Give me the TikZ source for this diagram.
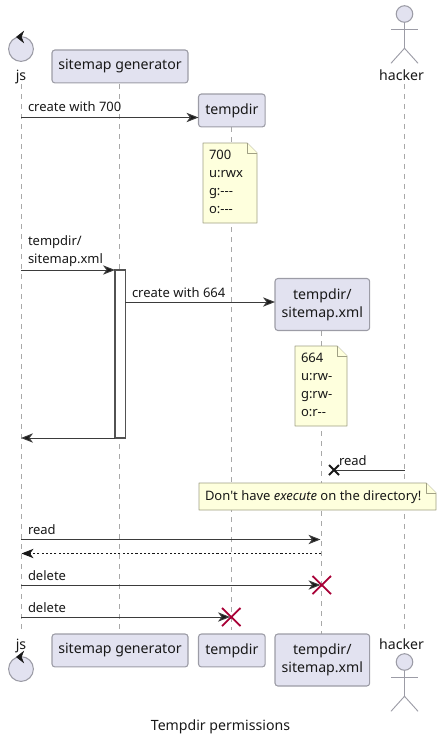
\documentclass[tikz,border=0pt]{standalone}
\usepackage{fontspec}
\newfontfamily\diagfont{Noto Sans}
\usetikzlibrary{arrows.meta}
\definecolor{boxfill}{HTML}{E2E2F0}
\definecolor{boxline}{HTML}{9C9CA6}
\definecolor{notefill}{HTML}{FEFFDD}
\definecolor{noteline}{HTML}{A0A084}
\definecolor{ink}{HTML}{181818}
\definecolor{lifegrey}{HTML}{A8A8A8}
\definecolor{killred}{HTML}{A80036}
\tikzset{
  every node/.style={font=\diagfont\fontsize{10.6}{13.5}\selectfont,text=ink,inner sep=0pt,outer sep=0pt},
  smalltext/.style={font=\diagfont\fontsize{9.75}{13.5}\selectfont},
  participantbox/.style={draw=boxline,fill=boxfill,line width=0.8pt,rounded corners=2.2pt,align=center,anchor=north west},
  lifeline/.style={draw=lifegrey,line width=0.9pt,dash pattern=on 3.75pt off 3.75pt},
  msg/.style={draw=ink!85,line width=0.75pt,-{Stealth[length=9pt,width=7pt,inset=2.6pt,fill=ink]}},
  retmsg/.style={draw=ink,line width=0.75pt,dash pattern=on 1.6pt off 1.6pt,-{Stealth[length=9pt,width=7pt,inset=2.6pt,fill=ink]}},
  msglabel/.style={anchor=base west,smalltext},
  activationbar/.style={draw=ink!75,fill=white,line width=0.8pt},
  notebody/.style={draw=noteline,fill=notefill,line width=0.6pt,line join=round},
  actorline/.style={draw=boxline,line width=0.7pt},
  actorhead/.style={draw=boxline,fill=boxfill,line width=0.8pt},
  killx/.style={draw=killred,line width=1.35pt},
  lostx/.style={draw=ink,line width=1.5pt}
}
\newcommand{\dognote}[6]{%
  \path[notebody] (#2,#3) -- (#2+#4-10,#3) -- (#2+#4,#3+10) -- (#2+#4,#3+#5) -- (#2,#3+#5) -- cycle;
  \path[notebody] (#2+#4-10,#3) -- (#2+#4-10,#3+10) -- (#2+#4,#3+10);
  \node[anchor=north west,align=left,smalltext] (#1) at (#2+6,#3+7.5) {#6};
}
\begin{document}
\begin{tikzpicture}[x=0.75pt,y=-0.75pt]
\useasboundingbox (0,0) rectangle (443,742);
% lifeline ends
\coordinate (jsT) at (21.4,84);     \coordinate (jsB) at (21.4,634);
\coordinate (genT) at (119.5,84);   \coordinate (genB) at (119.5,630);
\coordinate (tmpT) at (231.4,127);  \coordinate (tmpB) at (231.4,630);
\coordinate (xmlT) at (321.5,331);  \coordinate (xmlB) at (321.5,634);
\coordinate (hakT) at (404.5,84);   \coordinate (hakB) at (404.5,634);
\draw[lifeline] (jsT) -- (jsB);
\draw[lifeline] (genT) -- (genB);
\draw[lifeline] (tmpT) -- (tmpB);
\draw[lifeline] (xmlT) -- (xmlB);
\draw[lifeline] (hakT) -- (hakB);
% participants
\node[participantbox,minimum width=102pt,minimum height=24.7pt] (genTop) at (52,50) {sitemap generator};
\node[participantbox,minimum width=50pt,minimum height=24.7pt] (tmpTop) at (198.5,94) {tempdir};
\node[participantbox,minimum width=71pt,minimum height=39pt] (xmlTop) at (275,278.5) {tempdir/\\sitemap.xml};
\node[participantbox,minimum width=102pt,minimum height=24.7pt] (genBot) at (52,634) {sitemap generator};
\node[participantbox,minimum width=50pt,minimum height=24.7pt] (tmpBot) at (198.5,634) {tempdir};
\node[participantbox,minimum width=71pt,minimum height=39pt] (xmlBot) at (275,634) {tempdir/\\sitemap.xml};
% control js
\node[actorhead,circle,minimum size=18.6pt,fill=boxfill] (jsTopC) at (21,49) {};
\draw[ink,line width=0.4pt,fill=ink] (21,37) ++(-4.5,0) -- ++(7,-5.5) -- ++(-2.2,5.5) -- ++(2.2,5.5) -- cycle;
\node[anchor=base] (jsTopL) at (21,80) {js};
\node[actorhead,circle,minimum size=18.6pt,fill=boxfill] (jsBotC) at (21,669) {};
\draw[ink,line width=0.4pt,fill=ink] (21,657) ++(-4.5,0) -- ++(7,-5.5) -- ++(-2.2,5.5) -- ++(2.2,5.5) -- cycle;
\node[anchor=base] (jsBotL) at (21,649) {js};
% actor hacker
\node[actorhead,circle,minimum size=12.4pt] (hakTopH) at (404.5,14) {};
\draw[actorline] (hakTopH.south) -- ++(0,26) -- ++(-13.5,15) ++(13.5,-15) -- ++(13.5,15);
\draw[actorline] (391,29) -- (418,29);
\node[anchor=base] (hakTopL) at (401.5,80) {hacker};
\node[actorhead,circle,minimum size=12.4pt] (hakBotH) at (404.5,662) {};
\draw[actorline] (hakBotH.south) -- ++(0,26) -- ++(-13.5,15) ++(13.5,-15) -- ++(13.5,15);
\draw[actorline] (391,677) -- (418,677);
\node[anchor=base] (hakBotL) at (401.5,649) {hacker};
% activation
\node[activationbar,anchor=north west,minimum width=7.9pt,minimum height=126pt] (act) at (115,270) {};
% messages
\coordinate (m1a) at (21,117.5);
\draw[msg] (m1a) -- (tmpTop.west |- m1a);
\node[msglabel] (m1l) at (28,112) {create with 700};
\dognote{n1}{203}{143}{54}{80}{700\\u:rwx\\g:---\\o:---}
\coordinate (m2a) at (21,270);
\draw[msg] (m2a) -- (act.north west);
\node[anchor=south west,align=left,smalltext] (m2l) at (28,266.5) {tempdir/\\sitemap.xml};
\coordinate (m3a) at (125,302);
\draw[msg] (m3a) -- (xmlTop.west |- m3a);
\node[msglabel] (m3l) at (132,297) {create with 664};
\dognote{n2}{295}{346}{52}{80}{664\\u:rw-\\g:rw-\\o:r--}
\coordinate (m4b) at (21,438);
\draw[msg] (act.south west) -- (m4b);
\coordinate (m5a) at (404.5,470);
\coordinate (m5x) at (334,470);
\draw[ink!85,line width=0.75pt] (m5a) -- (m5x);
\draw[lostx] (329,465) -- (339,475) (329,475) -- (339,465);
\node[msglabel] (m5l) at (339,465) {read};
\dognote{n3}{199}{483}{237}{27}{Don't have \emph{execute} on the directory!}
\coordinate (m6a) at (21,539.5);
\coordinate (m6b) at (320.5,539.5);
\draw[msg] (m6a) -- (m6b);
\node[msglabel] (m6l) at (28,534) {read};
\coordinate (m7a) at (321,553.5);
\coordinate (m7b) at (21.5,553.5);
\draw[retmsg] (m7a) -- (m7b);
\coordinate (m8a) at (21,585);
\coordinate (m8b) at (320.5,585);
\draw[msg] (m8a) -- (m8b);
\node[msglabel] (m8l) at (28,580) {delete};
\draw[killx] (312.5,576) -- (331,594) (312.5,594) -- (331,576);
\coordinate (m9a) at (21,617);
\coordinate (m9b) at (230,617);
\draw[msg] (m9a) -- (m9b);
\node[msglabel] (m9l) at (28,612) {delete};
\draw[killx] (222,608) -- (240.5,626) (222,626) -- (240.5,608);
% caption
\node[anchor=base] (caption) at (220.5,730) {Tempdir permissions};
\end{tikzpicture}
\end{document}
